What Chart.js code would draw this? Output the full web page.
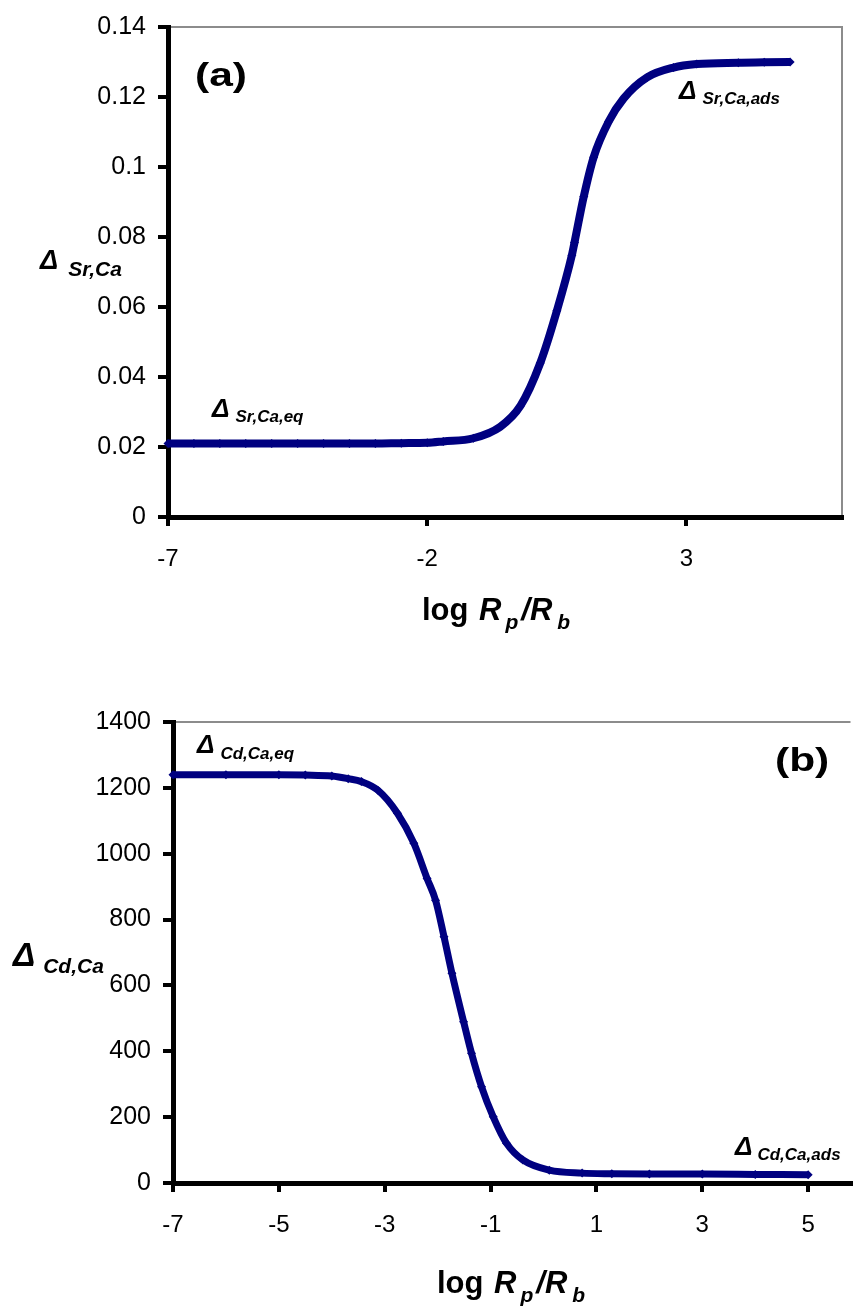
<!DOCTYPE html>
<html>
<head>
<meta charset="utf-8">
<script src="https://cdn.jsdelivr.net/npm/chart.js@4.4.1/dist/chart.umd.min.js"></script>
<style>
    body { margin: 0; background: #fff; }
    .box { position: relative; width: 855px; }
</style>
</head>
<body>
<div class="box" style="height:650px"><canvas id="chartA"></canvas></div>
<div class="box" style="height:659px"><canvas id="chartB"></canvas></div>
<script>
// (a) Sr/Ca partition vs log Rp/Rb
const logRA = [-7, -6.5, -6, -5.5, -5, -4.5, -4, -3.5, -3, -2.5, -2, -1.69, -1.11, -0.59, -0.2, 0.18, 0.5, 0.79, 0.84, 1.02, 1.21, 1.5, 1.79, 2.24, 2.75, 3.2, 4, 4.5, 5];
const deltaSrCa = [0.021, 0.021, 0.021, 0.021, 0.021, 0.021, 0.021, 0.021, 0.021, 0.0211, 0.0212, 0.0216, 0.0225, 0.0258, 0.0318, 0.044, 0.0589, 0.0748, 0.0784, 0.0916, 0.1028, 0.113, 0.1196, 0.1256, 0.1284, 0.1294, 0.1298, 0.1299, 0.13];
const xTicksA = [-7, -2, 3];
const yTicksA = [0, 0.02, 0.04, 0.06, 0.08, 0.1, 0.12, 0.14];

// (b) Cd/Ca partition vs log Rp/Rb
const logRB = [-7, -6, -5, -4.5, -4, -3.69, -3.44, -3.13, -2.76, -2.45, -2.2, -2.04, -1.88, -1.73, -1.51, -1.36, -1.17, -0.95, -0.7, -0.39, 0.11, 0.73, 1.29, 2, 3, 4, 5];
const deltaCdCa = [1240, 1240, 1240, 1239, 1236, 1228, 1219, 1193, 1123, 1032, 925, 859, 748, 637, 490, 394, 292, 201, 121, 70, 39, 30, 28, 27, 27, 26, 25];
const xTicksB = [-7, -5, -3, -1, 1, 3, 5];
const yTicksB = [0, 200, 400, 600, 800, 1000, 1200, 1400];

const NAVY = '#000080';
const FONT = '"Liberation Sans", Arial, sans-serif';

// draw a run of text pieces with their own font / baseline shift / horizontal stretch
function drawRich(ctx, x, y, parts) {
    let cx = x;
    parts.forEach(p => {
        const sx = p.sx || 1;
        ctx.font = p.font;
        ctx.save();
        ctx.translate(cx, y + (p.dy || 0));
        ctx.scale(sx, 1);
        ctx.fillText(p.text, 0, 0);
        ctx.restore();
        cx += ctx.measureText(p.text).width * sx + (p.gap || 0);
    });
}

const bi = size => `bold italic ${size}px ${FONT}`;
const b = size => `bold ${size}px ${FONT}`;

function deltaLabel(sub, big, small, dy, gap) {
    return [
        { text: '\u0394', font: bi(big), gap: gap },
        { text: sub, font: bi(small), dy: dy }
    ];
}

function xTitle() {
    return [
        { text: 'log ', font: b(31), gap: 2 },
        { text: 'R', font: bi(31), gap: 4 },
        { text: 'p', font: bi(21), dy: 9, gap: 3 },
        { text: '/R', font: bi(31), gap: 5 },
        { text: 'b', font: bi(21), dy: 9 }
    ];
}

// plot-area frame (grey) and text decorations
const decorPlugin = {
    id: 'decor',
    beforeDraw(chart, args, opts) {
        const { ctx, chartArea: a } = chart;
        ctx.save();
        ctx.strokeStyle = '#8c8c8c';
        ctx.lineWidth = 2;
        ctx.beginPath();
        ctx.moveTo(a.left, a.top);
        ctx.lineTo(a.right, a.top);
        if (opts.rightEdge) ctx.lineTo(a.right, a.bottom);
        ctx.stroke();
        ctx.restore();
    },
    afterDraw(chart, args, opts) {
        const ctx = chart.ctx;
        ctx.save();
        ctx.fillStyle = '#000';
        ctx.textBaseline = 'alphabetic';
        ctx.textAlign = 'left';
        (opts.texts || []).forEach(t => drawRich(ctx, t.x, t.y, t.parts));
        ctx.restore();
    }
};

function makeChart(id, xs, ys, cfg) {
    new Chart(document.getElementById(id), {
        type: 'line',
        data: {
            datasets: [{
                data: xs.map((x, i) => ({ x: x, y: ys[i] })),
                borderColor: NAVY,
                backgroundColor: NAVY,
                borderWidth: cfg.lineWidth,
                pointStyle: 'rectRot',
                pointRadius: 4.5,
                pointBorderWidth: 0,
                cubicInterpolationMode: 'monotone',
                clip: false
            }]
        },
        options: {
            responsive: true,
            maintainAspectRatio: false,
            animation: false,
            layout: { padding: cfg.padding },
            plugins: {
                legend: { display: false },
                tooltip: { enabled: false },
                decor: { rightEdge: cfg.rightEdge, texts: cfg.texts }
            },
            scales: {
                x: {
                    type: 'linear',
                    min: cfg.xMin,
                    max: cfg.xMax,
                    afterBuildTicks: axis => { axis.ticks = cfg.xTicks.map(v => ({ value: v })); },
                    afterFit: s => { s.height = cfg.xAxisHeight; },
                    border: { color: '#000', width: 5 },
                    grid: { drawOnChartArea: false, color: '#000', lineWidth: 4, tickLength: 9 },
                    ticks: { color: '#000', padding: 19, maxRotation: 0, font: { family: FONT, size: 24 } }
                },
                y: {
                    type: 'linear',
                    min: cfg.yMin,
                    max: cfg.yMax,
                    afterBuildTicks: axis => { axis.ticks = cfg.yTicks.map(v => ({ value: v })); },
                    afterFit: s => { s.width = cfg.yAxisWidth; },
                    border: { color: '#000', width: 5 },
                    grid: { drawOnChartArea: false, color: '#000', lineWidth: 4, tickLength: 10 },
                    ticks: {
                        color: '#000', padding: 12,
                        font: { family: FONT, size: 25 },
                        callback: v => String(+v.toFixed(2))
                    }
                }
            }
        },
        plugins: [decorPlugin]
    });
}

makeChart('chartA', logRA, deltaSrCa, {
    xMin: -7, xMax: 6, yMin: 0, yMax: 0.14,
    xTicks: xTicksA, yTicks: yTicksA,
    padding: { top: 17, right: 13, left: 0, bottom: 0 },
    yAxisWidth: 168, xAxisHeight: 133,
    lineWidth: 8, rightEdge: true,
    texts: [
        { x: 195, y: 86, parts: [{ text: '(a)', font: b(34), sx: 1.25 }] },
        { x: 679, y: 99, parts: deltaLabel('Sr,Ca,ads', 26, 17, 5, 6) },
        { x: 212, y: 417, parts: deltaLabel('Sr,Ca,eq', 26, 17, 5, 6) },
        { x: 40, y: 269, parts: deltaLabel('Sr,Ca', 27, 21, 7, 10) },
        { x: 422, y: 620, parts: xTitle() }
    ]
});

makeChart('chartB', logRB, deltaCdCa, {
    xMin: -7, xMax: 5.8, yMin: 0, yMax: 1400,
    xTicks: xTicksB, yTicks: yTicksB,
    padding: { top: 72, right: 0, left: 0, bottom: 0 },
    yAxisWidth: 173, xAxisHeight: 126,
    lineWidth: 7, rightEdge: false,
    texts: [
        { x: 197, y: 103, parts: deltaLabel('Cd,Ca,eq', 26, 17, 6, 6) },
        { x: 775, y: 121, parts: [{ text: '(b)', font: b(34), sx: 1.25 }] },
        { x: 735, y: 505, parts: deltaLabel('Cd,Ca,ads', 26, 17, 5, 5) },
        { x: 13, y: 316, parts: deltaLabel('Cd,Ca', 33, 21, 7, 8) },
        { x: 437, y: 643, parts: xTitle() }
    ]
});
</script>
</body>
</html>
